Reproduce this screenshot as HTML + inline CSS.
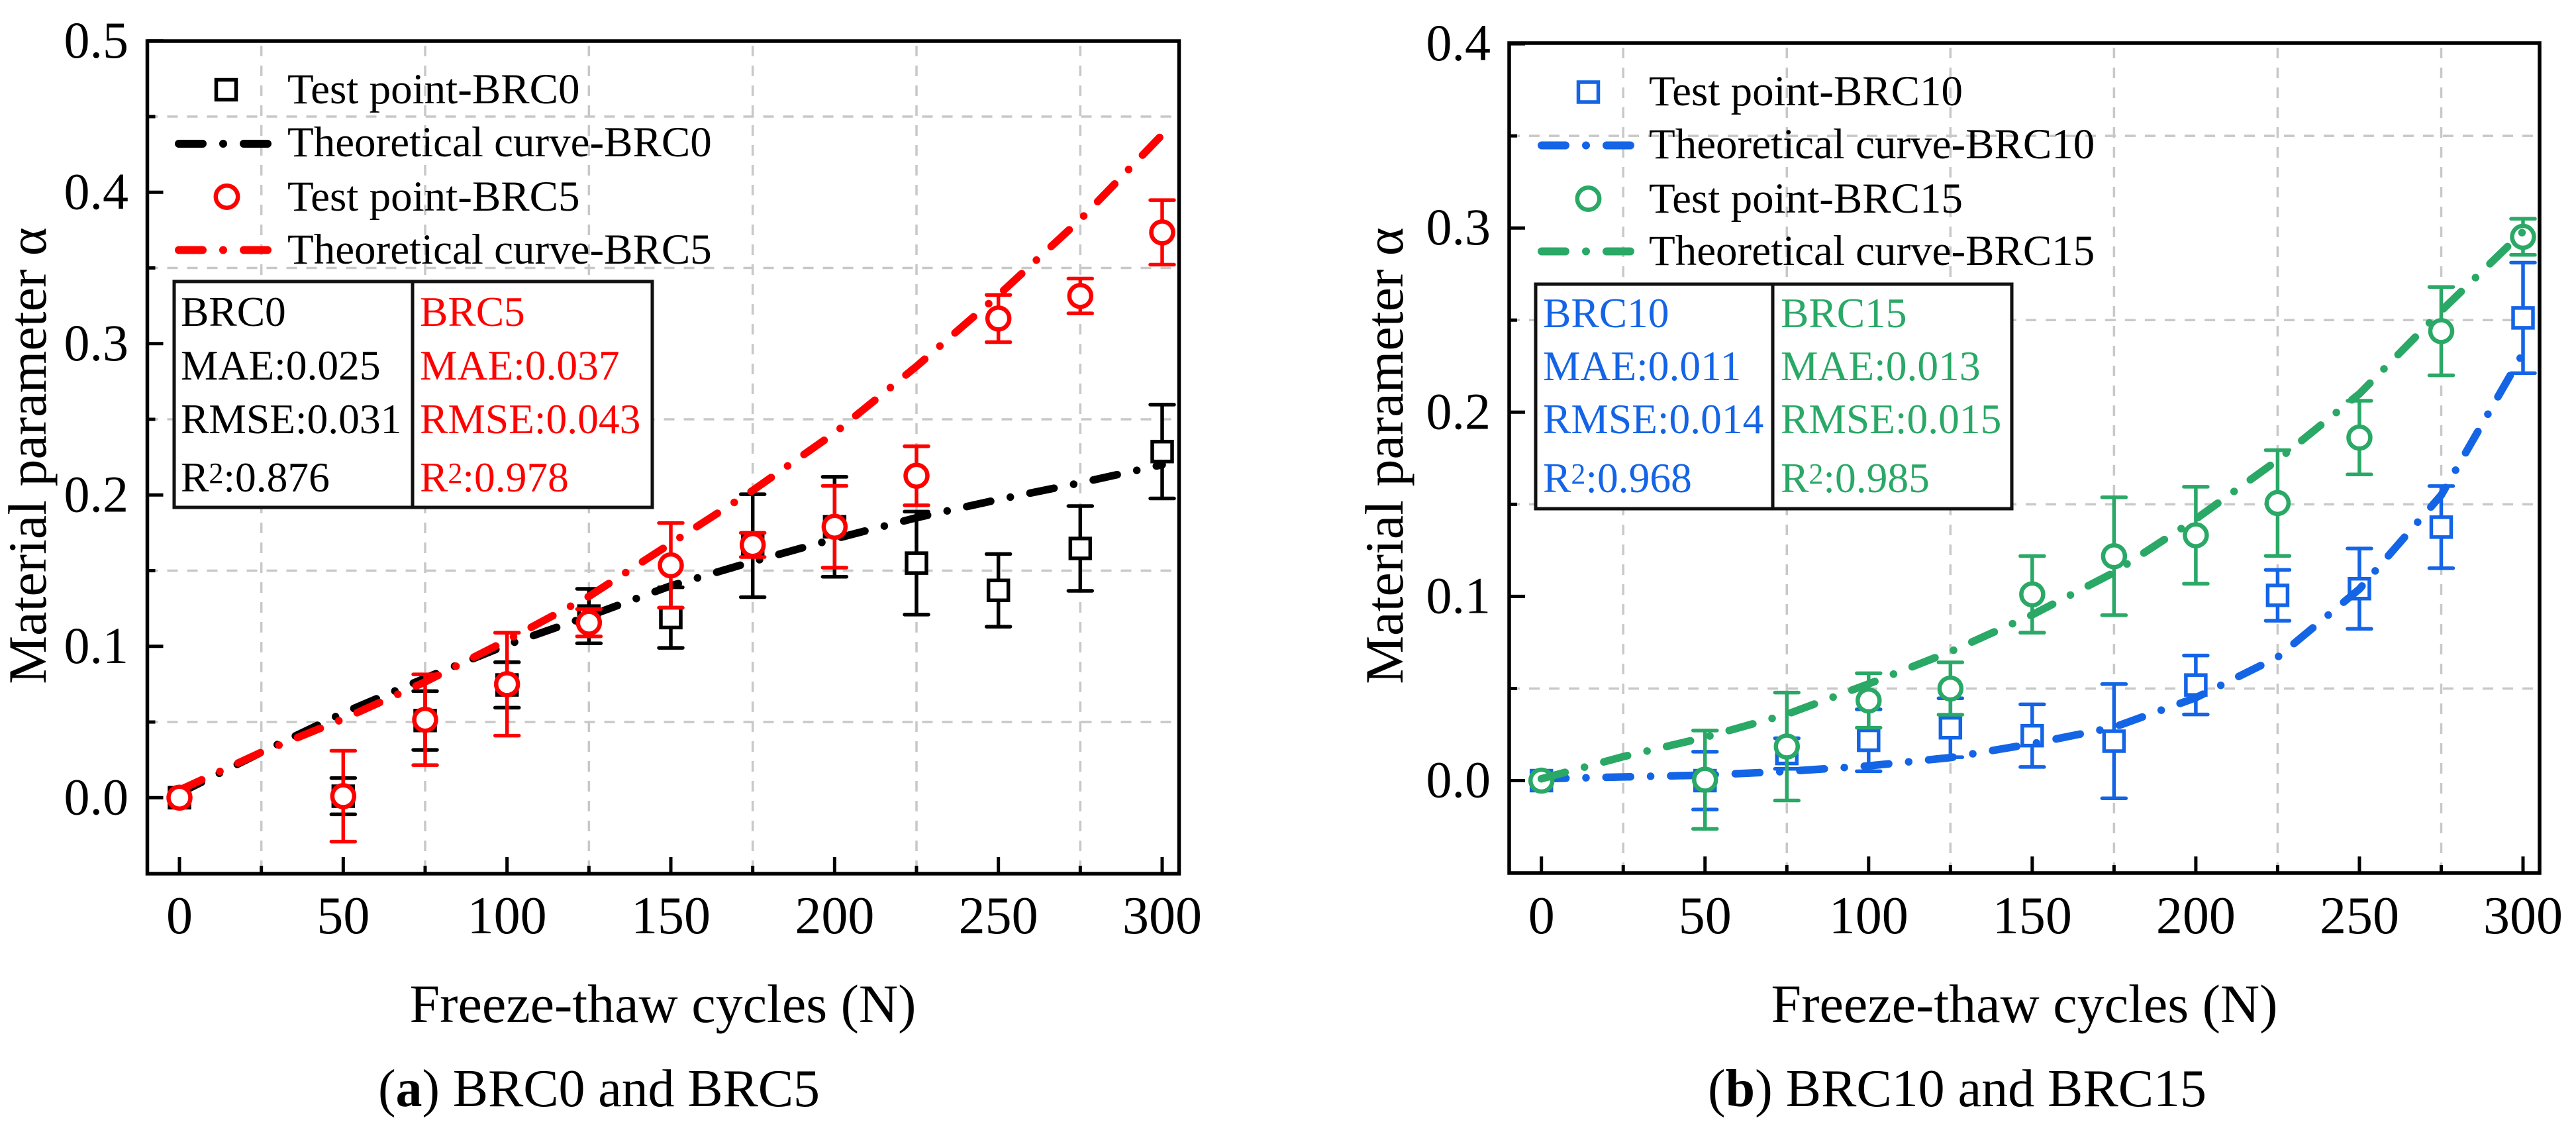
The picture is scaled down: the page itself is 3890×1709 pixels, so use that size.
<!DOCTYPE html>
<html lang="en">
<head>
<meta charset="utf-8">
<title>Material parameter vs freeze-thaw cycles</title>
<style>
html,body{margin:0;padding:0;background:#fff;}
svg{display:block;}
text{font-family:"Liberation Serif","Times New Roman",serif;fill:#000;}
.leg{font-size:65px;}
.stat{font-size:63.5px;}
.sup{font-size:44px;}
.title{font-size:82px;}
.cap{font-size:80px;}
</style>
</head>
<body>
<svg id="figure" xmlns="http://www.w3.org/2000/svg" width="3890" height="1709" viewBox="0 0 3890 1709">
  <rect width="3890" height="1709" fill="#fff"/>
  <g id="panel-a"></g>
  <g id="panel-b"></g>

  <g>
    <text class="title" x="1001" y="1543" text-anchor="middle">Freeze-thaw cycles (N)</text>
    <text class="title" transform="translate(69,688) rotate(-90)" text-anchor="middle">Material parameter α</text>
    <text class="cap" x="571" y="1670" textLength="667" lengthAdjust="spacing">(<tspan font-weight="bold">a</tspan>) BRC0 and BRC5</text>

    <g>
      <rect x="326.500" y="120.500" width="30" height="30" fill="#fff" stroke="#000" stroke-width="5.500"/>
      <text class="leg" x="434" y="156">Test point-BRC0</text>
      <path d="M270 217H404" fill="none" stroke="#000" stroke-width="12" stroke-linecap="round" stroke-dasharray="36 31 0.01 31 60"/>
      <text class="leg" x="434" y="236">Theoretical curve-BRC0</text>
      <circle cx="342.500" cy="297" r="16.700" fill="#fff" stroke="#ff0000" stroke-width="6.500"/>
      <text class="leg" x="434" y="318">Test point-BRC5</text>
      <path d="M270 377.500H404" fill="none" stroke="#ff0000" stroke-width="12" stroke-linecap="round" stroke-dasharray="36 31 0.01 31 60"/>
      <text class="leg" x="434" y="398">Theoretical curve-BRC5</text>
    </g>

    <g>
      <rect x="263" y="425" width="722" height="341" fill="#fff" stroke="#111" stroke-width="5"/>
      <path d="M623 425V766" stroke="#111" stroke-width="5"/>
      <text class="stat" x="273" y="492">BRC0</text>
      <text class="stat" x="273" y="573">MAE:0.025</text>
      <text class="stat" x="273" y="654">RMSE:0.031</text>
      <text class="stat" x="273" y="742">R<tspan class="sup" dy="-13">2</tspan><tspan dy="13">:0.876</tspan></text>
      <text class="stat" x="634" y="492" style="fill:#ff0000">BRC5</text>
      <text class="stat" x="634" y="573" style="fill:#ff0000">MAE:0.037</text>
      <text class="stat" x="634" y="654" style="fill:#ff0000">RMSE:0.043</text>
      <text class="stat" x="634" y="742" style="fill:#ff0000">R<tspan class="sup" dy="-13" style="fill:#ff0000">2</tspan><tspan dy="13" style="fill:#ff0000">:0.978</tspan></text>
    </g>
  </g>

  <g>
    <text class="title" x="3057" y="1543" text-anchor="middle">Freeze-thaw cycles (N)</text>
    <text class="title" transform="translate(2118,688) rotate(-90)" text-anchor="middle">Material parameter α</text>
    <text class="cap" x="2579" y="1670" textLength="753" lengthAdjust="spacing">(<tspan font-weight="bold">b</tspan>) BRC10 and BRC15</text>

    <g>
      <rect x="2383.500" y="124" width="30" height="30" fill="#fff" stroke="#1464e6" stroke-width="5.500"/>
      <text class="leg" x="2490" y="159">Test point-BRC10</text>
      <path d="M2328 219.500H2462" fill="none" stroke="#1464e6" stroke-width="12" stroke-linecap="round" stroke-dasharray="36 31 0.01 31 60"/>
      <text class="leg" x="2490" y="239">Theoretical curve-BRC10</text>
      <circle cx="2398.500" cy="300" r="16.700" fill="#fff" stroke="#2aa866" stroke-width="6.500"/>
      <text class="leg" x="2490" y="321">Test point-BRC15</text>
      <path d="M2328 379.500H2462" fill="none" stroke="#2aa866" stroke-width="12" stroke-linecap="round" stroke-dasharray="36 31 0.01 31 60"/>
      <text class="leg" x="2490" y="400">Theoretical curve-BRC15</text>
    </g>

    <g>
      <rect x="2319" y="429" width="719" height="339" fill="#fff" stroke="#111" stroke-width="5"/>
      <path d="M2677 429V768" stroke="#111" stroke-width="5"/>
      <text class="stat" x="2330" y="494" style="fill:#1464e6">BRC10</text>
      <text class="stat" x="2330" y="574" style="fill:#1464e6">MAE:0.011</text>
      <text class="stat" x="2330" y="654" style="fill:#1464e6">RMSE:0.014</text>
      <text class="stat" x="2330" y="743" style="fill:#1464e6">R<tspan class="sup" dy="-13" style="fill:#1464e6">2</tspan><tspan dy="13" style="fill:#1464e6">:0.968</tspan></text>
      <text class="stat" x="2689" y="494" style="fill:#2aa866">BRC15</text>
      <text class="stat" x="2689" y="574" style="fill:#2aa866">MAE:0.013</text>
      <text class="stat" x="2689" y="654" style="fill:#2aa866">RMSE:0.015</text>
      <text class="stat" x="2689" y="743" style="fill:#2aa866">R<tspan class="sup" dy="-13" style="fill:#2aa866">2</tspan><tspan dy="13" style="fill:#2aa866">:0.985</tspan></text>
    </g>
  </g>
</svg>

<script>
// ---- data ----
const testCycles = [0, 50, 75, 100, 125, 150, 175, 200, 225, 250, 275, 300];
const curveCycles = [0, 25, 50, 75, 100, 125, 150, 175, 200, 225, 250, 275, 300];

const xMajorTicks = [0, 50, 100, 150, 200, 250, 300];
const xTickLabels = ['0', '50', '100', '150', '200', '250', '300'];
const xMinorTicks = [25, 75, 125, 175, 225, 275];

const yMajorTicksA = [0, 0.1, 0.2, 0.3, 0.4, 0.5];
const yTickLabelsA = ['0.0', '0.1', '0.2', '0.3', '0.4', '0.5'];
const yMinorTicksA = [0.05, 0.15, 0.25, 0.35, 0.45];

const yMajorTicksB = [0, 0.1, 0.2, 0.3, 0.4];
const yTickLabelsB = ['0.0', '0.1', '0.2', '0.3', '0.4'];
const yMinorTicksB = [0.05, 0.15, 0.25, 0.35];

const brc0Values = [0, 0.001, 0.051, 0.0745, 0.12, 0.119, 0.1665, 0.179, 0.155, 0.137, 0.1647, 0.2287];
const brc0Errors = [0, 0.012, 0.0194, 0.015, 0.018, 0.02, 0.034, 0.033, 0.034, 0.024, 0.028, 0.031];
const brc0Curve = [0.003, 0.03, 0.056, 0.079, 0.101, 0.12, 0.14, 0.156, 0.171, 0.185, 0.197, 0.208, 0.22];

const brc5Values = [0, 0.001, 0.0515, 0.075, 0.1156, 0.1535, 0.167, 0.179, 0.2127, 0.3166, 0.3315, 0.3735];
const brc5Errors = [0, 0.03, 0.03, 0.034, 0.009, 0.028, 0.008, 0.027, 0.0195, 0.0156, 0.0115, 0.0213];
const brc5Curve = [0.005, 0.03, 0.052, 0.0765, 0.104, 0.133, 0.168, 0.203, 0.241, 0.285, 0.332, 0.382, 0.438];

const brc10Values = [0, 0, 0.0147, 0.0219, 0.0287, 0.0244, 0.0214, 0.0519, 0.1006, 0.1042, 0.1376, 0.2512];
const brc10Errors = [0, 0.0157, 0.0083, 0.0168, 0.016, 0.017, 0.031, 0.016, 0.0138, 0.0218, 0.0223, 0.03];
const brc10Curve = [0.001, 0.002, 0.003, 0.005, 0.008, 0.0125, 0.02, 0.029, 0.045, 0.067, 0.104, 0.155, 0.232];

const brc15Values = [0, 0.0005, 0.0185, 0.0435, 0.05, 0.1011, 0.1218, 0.1332, 0.1507, 0.1862, 0.244, 0.2952];
const brc15Errors = [0, 0.0267, 0.0293, 0.0148, 0.0142, 0.0208, 0.032, 0.0263, 0.0287, 0.02, 0.024, 0.0098];
const brc15Curve = [0.001, 0.013, 0.0235, 0.036, 0.0525, 0.07, 0.09, 0.113, 0.142, 0.174, 0.21, 0.255, 0.298];

// ---- drawing ----
const NS = 'http://www.w3.org/2000/svg';
function mk(parent, tag, attrs) {
  const n = document.createElementNS(NS, tag);
  for (const k in attrs) n.setAttribute(k, attrs[k]);
  parent.appendChild(n);
  return n;
}

function drawAxes(panel, tag, box, xScale, yScale, yMajor, yLabels, yMinor, yLabelX) {
  const root = document.getElementById(panel);
  xMinorTicks.forEach(function (t) {
    const g = mk(root, 'line', {x1: xScale(t), x2: xScale(t), y1: box.top, y2: box.bottom, stroke: '#c8c8c8', 'stroke-width': 3.5, 'stroke-dasharray': '16 14', 'stroke-dashoffset': -7});
    
    
  });
  yMinor.forEach(function (t) {
    const g = mk(root, 'line', {x1: box.left, x2: box.right, y1: yScale(t), y2: yScale(t), stroke: '#c8c8c8', 'stroke-width': 3.5, 'stroke-dasharray': '16 14'});
    
    
  });
  const frame = mk(root, 'rect', {x: box.left, y: box.top, width: box.right - box.left, height: box.bottom - box.top, fill: 'none', stroke: '#000', 'stroke-width': 5.5});
  
  

  xMajorTicks.forEach(function (t, i) {
    const l = mk(root, 'line', {x1: xScale(t), x2: xScale(t), y1: box.bottom, y2: box.bottom - 25, stroke: '#000', 'stroke-width': 5});
    
    
    const s = mk(root, 'text', {x: xScale(t), y: 1409, 'text-anchor': 'middle', 'font-size': 80});
    s.textContent = xTickLabels[i];
    
    
  });
  xMinorTicks.forEach(function (t) {
    const l = mk(root, 'line', {x1: xScale(t), x2: xScale(t), y1: box.bottom, y2: box.bottom - 12, stroke: '#000', 'stroke-width': 5});
    
    
  });
  yMajor.forEach(function (t, i) {
    const l = mk(root, 'line', {x1: box.left, x2: box.left + 24, y1: yScale(t), y2: yScale(t), stroke: '#000', 'stroke-width': 5});
    
    
    const s = mk(root, 'text', {x: yLabelX, y: yScale(t) + 25, 'text-anchor': 'end', 'font-size': 78});
    s.textContent = yLabels[i];
    
    
  });
  yMinor.forEach(function (t) {
    const l = mk(root, 'line', {x1: box.left, x2: box.left + 12, y1: yScale(t), y2: yScale(t), stroke: '#000', 'stroke-width': 5});
    
    
  });
}

function drawPoints(panel, name, color, shape, xs, vals, errs, xScale, yScale) {
  const root = document.getElementById(panel);
  xs.forEach(function (c, i) {
    const px = xScale(c), py = yScale(vals[i]);
    const g = mk(root, 'g', {});
    
    
    if (errs[i] > 0) {
      const hi = yScale(vals[i] + errs[i]), lo = yScale(vals[i] - errs[i]);
      const e = mk(g, 'path', {d: 'M' + px + ' ' + hi + 'V' + lo + 'M' + (px - 18) + ' ' + hi + 'H' + (px + 18) + 'M' + (px - 18) + ' ' + lo + 'H' + (px + 18), fill: 'none', stroke: color, 'stroke-width': 5.5, 'stroke-linecap': 'round'});
      
      
    }
    let m;
    if (shape === 'square') {
      m = mk(g, 'rect', {x: px - 15, y: py - 15, width: 30, height: 30, fill: '#fff', stroke: color, 'stroke-width': 5.5});
    } else {
      m = mk(g, 'circle', {cx: px, cy: py, r: 16.5, fill: '#fff', stroke: color, 'stroke-width': 6.5});
    }
    
    
  });
}

function drawCurve(panel, name, color, xs, vals, xScale, yScale) {
  const root = document.getElementById(panel);
  const pts = xs.map(function (c, i) { return xScale(c) + ',' + yScale(vals[i]); }).join(' ');
  const line = mk(root, 'polyline', {points: pts, fill: 'none', stroke: color, 'stroke-width': 11.5, 'stroke-linecap': 'round', 'stroke-linejoin': 'round', 'stroke-dasharray': '37 30.3 0.01 30.3'});
  
  
}

// axis functions
function xA(v) { return 271 + v * (1755 - 271) / 300; }
function yA(v) { return 1204.3 - v * 2285; }
function xB(v) { return 2327.7 + v * (3810 - 2327.7) / 300; }
function yB(v) { return 1178.5 - v * 2781; }

drawAxes('panel-a', 'a', {left: 222.5, right: 1780.5, top: 62, bottom: 1319}, xA, yA, yMajorTicksA, yTickLabelsA, yMinorTicksA, 194);
drawPoints('panel-a', 'brc0', '#000000', 'square', testCycles, brc0Values, brc0Errors, xA, yA);
drawCurve('panel-a', 'brc0', '#000000', curveCycles, brc0Curve, xA, yA);
drawCurve('panel-a', 'brc5', '#ff0000', curveCycles, brc5Curve, xA, yA);
drawPoints('panel-a', 'brc5', '#ff0000', 'circle', testCycles, brc5Values, brc5Errors, xA, yA);

drawAxes('panel-b', 'b', {left: 2279, right: 3835, top: 65, bottom: 1318}, xB, yB, yMajorTicksB, yTickLabelsB, yMinorTicksB, 2251);
drawPoints('panel-b', 'brc10', '#1464e6', 'square', testCycles, brc10Values, brc10Errors, xB, yB);
drawCurve('panel-b', 'brc10', '#1464e6', curveCycles, brc10Curve, xB, yB);
drawPoints('panel-b', 'brc15', '#2aa866', 'circle', testCycles, brc15Values, brc15Errors, xB, yB);
drawCurve('panel-b', 'brc15', '#2aa866', curveCycles, brc15Curve, xB, yB);
</script>
</body>
</html>
